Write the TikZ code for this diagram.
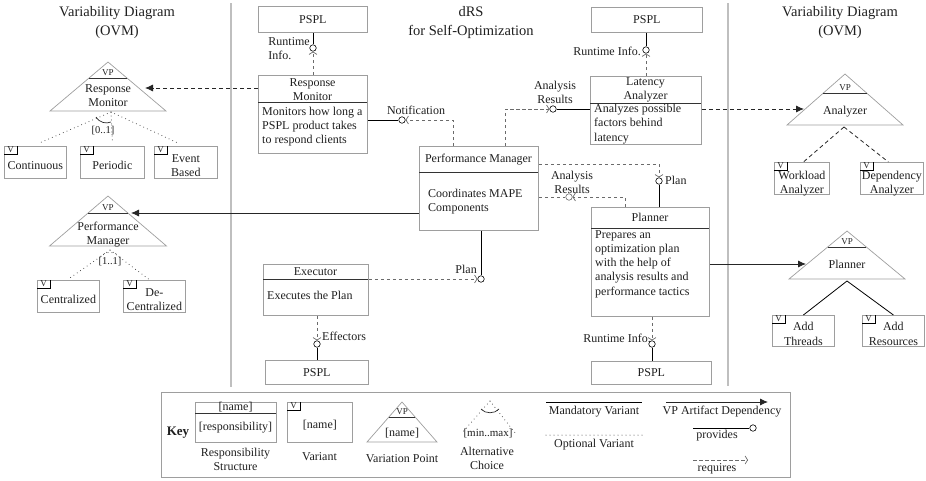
\documentclass[tikz,border=0pt]{standalone}
\usepackage{fontspec}
\setmainfont{Liberation Serif}
\usetikzlibrary{arrows.meta,calc}
\newcommand\fMain{\fontsize{12}{14.2}\selectfont}
\newcommand\fSmall{\fontsize{9}{10}\selectfont}
\newcommand\fChoice{\fontsize{10.5}{12}\selectfont}
\newcommand\fTitle{\fontsize{14.5}{19}\selectfont}
\definecolor{bx}{gray}{0.62}
\definecolor{sepc}{gray}{0.75}
\definecolor{cn}{gray}{0.42}
\definecolor{tx}{gray}{0.12}
\tikzset{
  rbx/.style={draw=bx, line width=0.8pt, rectangle, inner sep=0, anchor=north west},
  tc/.style={inner sep=0, font=\fMain, align=center, text=tx},
  tw/.style={inner sep=0, font=\fMain, align=left, anchor=west, text=tx},
  te/.style={inner sep=0, font=\fMain, align=left, anchor=east, text=tx},
  ttl/.style={inner sep=0, font=\fTitle, align=center, text=tx},
  divl/.style={line width=0.9pt, draw=black!80},
  conn/.style={line width=0.8pt, draw=black},
  reqn/.style={line width=0.7pt, draw=cn, dash pattern=on 3.5pt off 2.5pt},
  req/.style={reqn, -{Straight Barb[length=2.5pt,width=8pt]}},
  sock/.style={circle, draw=black, fill=white, inner sep=0, minimum size=6.5pt, line width=0.6pt},
  vpd/.style={line width=0.8pt, draw=black!85, -{Latex[length=8pt,width=7pt]}},
  vpdd/.style={vpd, dash pattern=on 4pt off 3pt},
  tri/.style={draw=bx, line width=0.7pt},
  vtab/.style={draw=black, line width=0.7pt},
  opt/.style={draw=black!80, line width=1pt, dash pattern=on 0pt off 4pt, line cap=round},
  man/.style={draw=black, line width=0.8pt},
  dsh/.style={draw=black!85, line width=0.8pt, dash pattern=on 4pt off 3pt},
  sepl/.style={draw=sepc, line width=1.6pt},
}
% responsibility box: name, x, y, w, h, divider y
\newcommand\rspbox[6]{%
  \node[rbx, minimum width=#4pt, minimum height=#5pt] (#1) at (#2,#3) {};
  \draw[divl] (#2,#6) -- ({#2+#4},#6);
}
% variant box: name, x, y, w, h, text, text y offset
\newcommand\varnt[7]{%
  \node[rbx, minimum width=#4pt, minimum height=#5pt] (#1) at (#2,#3) {};
  \draw[vtab] ($(#1.north west)+(0,8)$) -| ($(#1.north west)+(13,0)$);
  \node[inner sep=0, font=\fSmall, text=tx] (#1-v) at ($(#1.north west)+(6.5,4)$) {V};
  \node[tc] (#1-t) at ($(#1.center)+(0,#7)$) {#6};
}
% variation point triangle: name, apex x, apex y, half width, height, divider offset
\newcommand\vptri[6]{%
  \coordinate (#1-apex) at (#2,#3);
  \draw[tri] (#1-apex) -- ({#2-#4},{#3+#5}) -- ({#2+#4},{#3+#5}) -- cycle;
  \draw[divl] ({#2-#4*#6/#5},{#3+#6}) -- ({#2+#4*#6/#5},{#3+#6});
  \node[inner sep=0, font=\fSmall, text=tx] (#1-vp) at (#2,{#3+#6-5.5}) {VP};
}
\begin{document}
\begin{tikzpicture}[x=1pt,y=-1pt]
\path[use as bounding box] (0,0) rectangle (926,480);
% separators
\coordinate (s1t) at (231,3); \coordinate (s1b) at (231,387);
\draw[sepl] (s1t) -- (s1b);
\coordinate (s2t) at (728,3); \coordinate (s2b) at (728,386);
\draw[sepl] (s2t) -- (s2b);
% titles
\node[ttl] (titl) at (117,22.5) {Variability Diagram\\(OVM)};
\node[ttl] (titc) at (471,22.5) {dRS\\for Self-Optimization};
\node[ttl] (titr) at (840,22.5) {Variability Diagram\\(OVM)};

% ---------- dRS boxes ----------
\node[rbx, minimum width=109pt, minimum height=26pt] (ps1) at (258,6) {};
\node[tc] (ps1t) at (ps1.center) {PSPL};
\rspbox{rm}{258}{75}{109}{78}{102}
\node[tc] (rmt) at (312.5,90) {Response\\Monitor};
\node[tw] (rmb) at (262,126.5) {Monitors how long a\\PSPL product takes\\to respond clients};

\rspbox{pm}{419}{146}{119}{84}{172}
\node[tc] (pmt) at (478.5,160) {Performance Manager};
\node[tw] (pmb) at (428,202) {Coordinates MAPE\\Components};

\rspbox{la}{590}{76}{111}{68}{103}
\node[tc] (lat) at (645.5,89.5) {Latency\\Analyzer};
\node[tw] (lab) at (594,124) {Analyzes possible\\factors behind\\latency};

\node[rbx, minimum width=111pt, minimum height=25pt] (ps2) at (591,7) {};
\node[tc] (ps2t) at (ps2.center) {PSPL};

\rspbox{pl}{591}{207}{118}{109}{228}
\node[tc] (plt) at (650,217.5) {Planner};
\node[tw] (plb) at (595,264) {Prepares an\\optimization plan\\with the help of\\analysis results and\\performance tactics};

\rspbox{ex}{263}{264}{105}{51}{279}
\node[tc] (ext) at (315.5,272) {Executor};
\node[tw] (exb) at (267,295) {Executes the Plan};

\node[rbx, minimum width=103pt, minimum height=24pt] (ps3) at (265,360) {};
\node[tc] (ps3t) at (ps3.center) {PSPL};
\node[rbx, minimum width=120pt, minimum height=23pt] (ps4) at (591,361) {};
\node[tc] (ps4t) at (ps4.center) {PSPL};

% ---------- sockets ----------
\node[sock] (c1) at (313,48) {};
\node[sock] (c2) at (402,120) {};
\node[sock] (c3) at (646,50) {};
\node[sock] (c4) at (553,109) {};
\node[sock] (c5) at (659,181) {};
\node[sock, draw=cn] (c6) at (569,197) {};
\node[sock] (c7) at (652,344) {};
\node[sock] (c8) at (481,279) {};
\node[sock] (c9) at (317,344) {};

% ---------- connectors ----------
\draw[conn] (c1 |- ps1.south) -- (c1.north);
\draw[req] (c1 |- rm.north) -- (c1.south);
\node[te] (l1) at (310,48.5) {Runtime\\Info.};

\draw[conn] (rm.east |- c2) -- (c2.west);
\coordinate (pmn1) at ($(pm.north west)+(34,0)$);
\draw[req] (pmn1) |- (c2.east);
\node[tc] (l2) at (416,110) {Notification};

\draw[conn] (c3 |- ps2.south) -- (c3.north);
\draw[req] (c3 |- la.north) -- (c3.south);
\node[te] (l3) at (641,51) {Runtime Info.};

\draw[conn] (la.west |- c4) -- (c4.east);
\coordinate (pmn2) at ($(pm.north west)+(86,0)$);
\draw[req] (pmn2) |- (c4.west);
\node[tc] (l4) at (555,92.5) {Analysis\\Results};

\coordinate (pme1) at ($(pm.north east)+(0,18)$);
\draw[req] (pme1) -| (c5.north);
\draw[conn] (c5.south) -- (c5 |- pl.north);
\node[tw] (l5) at (665,180) {Plan};

\coordinate (pme2) at ($(pm.north east)+(0,51)$);
\draw[reqn] (pme2) -- (c6.west);
\coordinate (pln1) at ($(pl.north west)+(34,0)$);
\draw[req] (pln1) |- (c6.east);
\node[tc] (l6) at (572,182) {Analysis\\Results};

\draw[req] (c7 |- pl.south) -- (c7.north);
\draw[conn] (c7.south) -- (c7 |- ps4.north);
\node[te] (l7) at (651,338) {Runtime Info.};

\draw[conn] (c8 |- pm.south) -- (c8.north);
\draw[req] (ex.east |- c8) -- (c8.west);
\node[te] (l8) at (477,269) {Plan};

\draw[req] (c9 |- ex.south) -- (c9.north);
\draw[conn] (c9.south) -- (c9 |- ps3.north);
\node[tw] (l9) at (322,336) {Effectors};

% ---------- VP artifact dependencies ----------
\coordinate (rmvp) at (145,88);
\draw[vpdd] (rm.west |- rmvp) -- (rmvp);
\coordinate (pmvp) at (131,213);
\draw[vpd] (pm.west |- pmvp) -- (pmvp);
\coordinate (lavp) at (804,109);
\draw[vpdd] (la.east |- lavp) -- (lavp);
\coordinate (plvp) at (806,264);
\draw[vpd] (pl.east |- plvp) -- (plvp);

% ---------- left OVM ----------
\vptri{trm}{108}{62}{58}{49}{16}
\node[tc] (trmt) at (108,95.5) {Response\\Monitor};
\varnt{vc}{4}{146}{62}{32}{Continuous}{3}
\varnt{vpe}{80}{146}{64}{32}{Periodic}{3}
\varnt{veb}{154}{146}{63}{32}{Event\\Based}{3}
\coordinate (ch1) at (111,112);
\draw[opt] (ch1) -- ($(vc.north)+(4,-3)$);
\draw[opt] (ch1) -- ($(vpe.north)+(0,-3)$);
\draw[opt] (ch1) -- ($(veb.north)+(-8,-3)$);
\draw[line width=0.7pt, black!85] (96,117) .. controls (100,123) and (106,124) .. (111,122);
\node[inner sep=0, font=\fChoice, text=tx] (ch1l) at (103,131) {[0..1]};

\vptri{tpm}{108}{196}{58.5}{50}{17}
\node[tc] (tpmt) at (108,234.5) {Performance\\Manager};
\varnt{vce}{37}{280}{62}{32}{Centralized}{3}
\varnt{vdc}{123}{280}{62}{32}{De-\\Centralized}{3}
\coordinate (ch2) at (110,250);
\draw[opt] (ch2) -- ($(vce.north)+(0,-1)$);
\draw[opt] (ch2) -- ($(vdc.north)+(-6,-1)$);
\draw[opt] (101,256) .. controls (105,251) and (115,251) .. (119,256);
\node[inner sep=0, font=\fChoice, text=tx] (ch2l) at (110,262) {[1..1]};

% ---------- right OVM ----------
\vptri{tan}{845}{74}{58}{51}{19}
\node[tc] (tant) at (845,112) {Analyzer};
\varnt{vwa}{774}{162}{55}{32}{Workload\\Analyzer}{5.5}
\varnt{vda}{860}{162}{63}{32}{Dependency\\Analyzer}{5.5}
\coordinate (ch3) at (844,127);
\draw[dsh] (ch3) -- ($(vwa.north)+(1.5,0)$);
\draw[dsh] (ch3) -- ($(vda.north)+(-3.5,0)$);

\vptri{tpl}{847}{231}{58}{48}{16}
\node[tc] (tplt) at (847,264) {Planner};
\varnt{vat}{772}{315}{62}{31}{Add\\Threads}{3}
\varnt{var}{862}{315}{62}{31}{Add\\Resources}{3}
\coordinate (ch4) at (847,281);
\draw[man] (ch4) -- (vat.north);
\draw[man] (ch4) -- (var.north);

% ---------- key ----------
\node[rbx, minimum width=629pt, minimum height=85pt] (key) at (161,392) {};
\node[inner sep=0, font=\fontsize{13}{15}\selectfont\bfseries, text=tx] (keyl) at (178,433) {Key};
\rspbox{krs}{195}{402}{81}{40}{413}
\node[tc] (krst) at (235.5,407) {[name]};
\node[tc] (krsb) at (235.5,428) {[responsibility]};
\node[tc] (krsc) at (235.5,459) {Responsibility\\Structure};
\varnt{kv}{287}{402}{65}{40}{[name]}{3}
\node[tc] (kvc) at (319.5,457) {Variant};
\vptri{ktri}{402}{402}{35}{40}{15}
\node[tc] (ktrit) at (402,433) {[name]};
\node[tc] (ktric) at (402,459) {Variation Point};

\coordinate (kca) at (490,401);
\coordinate (kcl1) at (461,434);
\coordinate (kcr1) at (516,434);
\draw[opt] (kca) -- (kcl1);
\draw[opt] (kca) -- (kcr1);
\draw[line width=0.7pt, black!85] (481,409) .. controls (485,414) and (495,414) .. (499,409);
\node[inner sep=0, font=\fontsize{11}{13}\selectfont, text=tx] (kcl) at (488,433) {[min..max]};
\node[tc] (kcc) at (487,458) {Alternative\\Choice};

\coordinate (km1) at (546,402); \coordinate (km2) at (642,402);
\draw[man] (km1) -- (km2);
\node[tc] (kmt) at (594,412) {Mandatory Variant};
\coordinate (ko1) at (546,435); \coordinate (ko2) at (642,435);
\draw[opt] (ko1) -- (ko2);
\node[tc] (kot) at (594,445) {Optional Variant};
\coordinate (kd1) at (666,402); \coordinate (kd2) at (768,402);
\draw[vpd] (kd1) -- (kd2);
\node[tc] (kdt) at (722,412) {VP Artifact Dependency};
\node[sock] (kpc) at (753,428) {};
\coordinate (kp1) at (693,428);
\draw[conn] (kp1) -- (kpc.west);
\node[tc] (kpt) at (717,436) {provides};
\coordinate (kr1) at (693,460); \coordinate (kr2) at (748,460);
\draw[req] (kr1) -- (kr2);
\node[tc] (krt) at (717,469) {requires};
\end{tikzpicture}
\end{document}
